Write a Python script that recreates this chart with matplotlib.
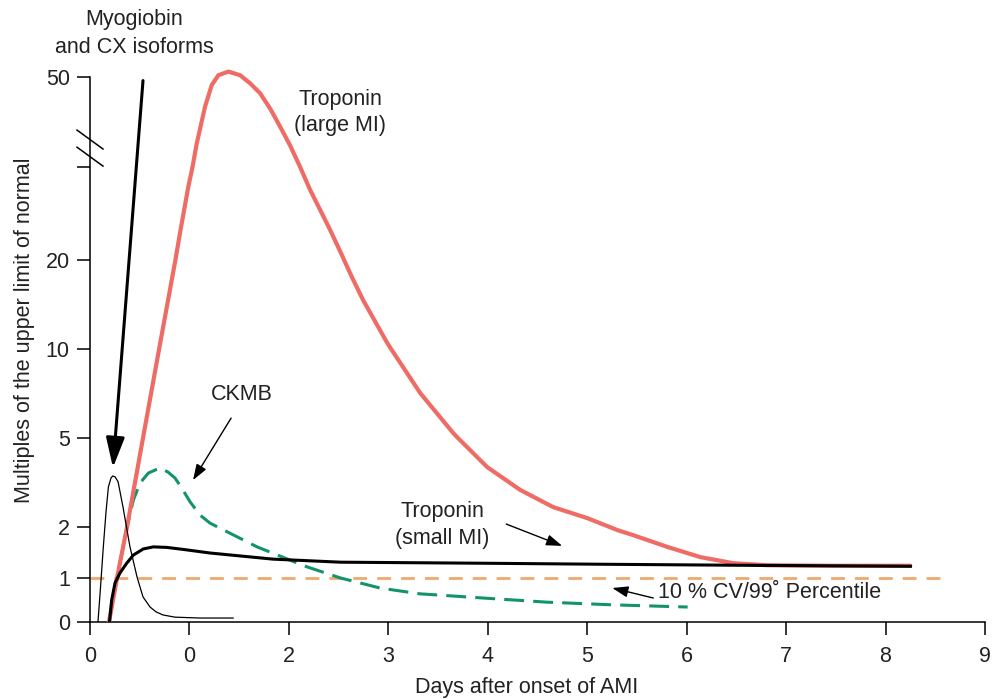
import matplotlib.pyplot as plt
import numpy as np

plt.rcParams['font.family'] = ['Liberation Sans', 'DejaVu Sans']

# hand drawn y axis: value -> height above zero (px), used for the scale only
scale_vals = [0, 1, 2, 5, 10, 20, 40, 50, 60]
scale_hts = [0, 44, 95, 184, 273, 362, 455, 545, 635]

# x ticks (the source figure really labels the second tick "0")
x_ticks = [0, 1, 2, 3, 4, 5, 6, 7, 8, 9]
x_tick_labels = ['0', '0', '2', '3', '4', '5', '6', '7', '8', '9']
y_ticks = [0, 1, 2, 5, 10, 20, 40, 50]
y_tick_labels = ['0', '1', '2', '5', '10', '20', '', '50']

# Troponin (large MI)
trop_large_x = [0.191, 0.272, 0.372, 0.533, 0.695, 0.822, 0.859, 0.905, 0.989, 1.031, 1.073,
                1.157, 1.224, 1.291, 1.392, 1.509, 1.61, 1.71, 1.811, 1.911, 2.012, 2.113,
                2.213, 2.314, 2.414, 2.532, 2.555, 2.633, 2.746, 2.988, 3.028, 3.32, 3.652,
                3.70, 3.994, 4.326, 4.658, 5.0, 5.226, 5.302, 5.463, 5.805, 6.137, 6.469,
                6.811, 7.445, 8.249]
trop_large_y = [0, 1, 2, 5, 10, 17.75, 20, 25.8, 35.8, 40, 42.6,
                46.7, 49.1, 50.2, 50.6, 50.2, 49.3, 48.2, 46.5, 44.5, 42.4, 40.0,
                35.1, 30.8, 26.5, 21.1, 20, 18.1, 15.5, 10.7, 10, 7.53, 5.28,
                5, 4.02, 3.25, 2.67, 2.30, 2, 1.94, 1.84, 1.61, 1.41, 1.29,
                1.25, 1.24, 1.24]

# Troponin (small MI)
trop_small_x = [0.196, 0.218, 0.252, 0.302, 0.369, 0.436, 0.536, 0.637, 0.772, 0.939, 1.207,
                1.84, 2.52, 3.92, 5.13, 6.50, 8.25]
trop_small_y = [0, 0.50, 0.89, 1.10, 1.29, 1.45, 1.57, 1.61, 1.60, 1.56, 1.49,
                1.37, 1.31, 1.29, 1.27, 1.25, 1.23]

# Myoglobin and CK isoforms
myo_x = [0.080, 0.101, 0.134, 0.161, 0.185, 0.211, 0.228, 0.252, 0.282, 0.332, 0.402,
         0.473, 0.533, 0.604, 0.664, 0.734, 0.855, 1.107, 1.439]
myo_y = [0, 0.64, 1.61, 2.51, 3.35, 3.65, 3.72, 3.69, 3.53, 2.67, 1.61,
         1.02, 0.57, 0.34, 0.23, 0.16, 0.11, 0.09, 0.09]

# CKMB
ckmb_x = [0.191, 0.272, 0.372, 0.436, 0.503, 0.587, 0.704, 0.785, 0.855, 0.923, 1.006,
          1.107, 1.207, 1.68, 2.18, 2.52, 2.92, 3.32, 3.92, 4.60, 5.26, 6.01]
ckmb_y = [0, 1, 2, 2.91, 3.48, 3.82, 3.99, 3.85, 3.65, 3.31, 2.85,
          2.40, 2.13, 1.61, 1.22, 1.0, 0.77, 0.64, 0.55, 0.45, 0.39, 0.34]

# 10 % CV / 99th percentile cutoff
cutoff_x = [0, 8.63]
cutoff_y = [1, 1]


def forward(v):
    return np.interp(v, scale_vals, scale_hts)


def inverse(h):
    return np.interp(h, scale_hts, scale_vals)


fs = 15.5
txt = '#222222'

fig = plt.figure(figsize=(9.98, 6.99), dpi=100)
ax = fig.add_axes([90 / 998, 1 - 622 / 699, 895 / 998, 563 / 699])
ax.set_yscale('function', functions=(forward, inverse))

ax.plot(cutoff_x, cutoff_y, color='#efa96e', lw=2, dashes=(5, 3.6), zorder=1)
ax.plot(ckmb_x, ckmb_y, color='#12936b', lw=2.2, dashes=(6.5, 3), zorder=2)
ax.plot(trop_large_x, trop_large_y, color='#ee6b66', lw=3, zorder=3,
        solid_capstyle='round', solid_joinstyle='round')
ax.plot(trop_small_x, trop_small_y, color='black', lw=2.2, zorder=4,
        solid_joinstyle='round')
ax.plot(myo_x, myo_y, color='black', lw=0.9, zorder=4, solid_joinstyle='round')

ax.set_xlim(0, 9)
ax.set_ylim(0, 52)
ax.set_xticks(x_ticks)
ax.set_xticklabels(x_tick_labels)
ax.set_yticks(y_ticks)
ax.set_yticklabels(y_tick_labels)
ax.minorticks_off()
ax.tick_params(axis='both', direction='out', length=9.5, width=1.1, labelsize=fs,
               labelcolor=txt)
ax.tick_params(axis='x', pad=8)
ax.tick_params(axis='y', pad=5)
for side in ['top', 'right']:
    ax.spines[side].set_visible(False)
ax.spines['left'].set_bounds(0, 50)
ax.spines['left'].set_linewidth(1.1)
ax.spines['bottom'].set_linewidth(1.1)

# axis break marks
ytr = ax.get_yaxis_transform()
ax.plot([-0.0145, 0.0145], [44.1, 42.0], color='black', lw=1.1, transform=ytr, clip_on=False)
ax.plot([-0.0145, 0.0145], [42.2, 40.1], color='black', lw=1.1, transform=ytr, clip_on=False)

# annotations
ax.annotate('', xy=(0.231, 4.0), xytext=(0.533, 49.6),
            arrowprops=dict(arrowstyle='-|>,head_length=1.3,head_width=0.4', color='black',
                            lw=2.2, mutation_scale=14, shrinkA=0, shrinkB=0))
small_arrow = dict(arrowstyle='-|>,head_length=0.8,head_width=0.28', color='black',
                   lw=1, mutation_scale=12, shrinkA=0, shrinkB=0)
ax.annotate('', xy=(1.036, 3.58), xytext=(1.419, 6.12), arrowprops=small_arrow)
ax.annotate('', xy=(4.748, 1.63), xytext=(4.185, 2.10), arrowprops=small_arrow)
ax.annotate('', xy=(5.252, 0.773), xytext=(5.664, 0.545), arrowprops=small_arrow)

ax.text(1.529, 7.42, 'CKMB', fontsize=fs, ha='center', va='center', color=txt)
ax.text(2.515, 46.1, 'Troponin\n(large MI)', fontsize=fs, ha='center', va='center',
        color=txt, linespacing=1.3)
ax.text(3.541, 2.07, 'Troponin\n(small MI)', fontsize=fs, ha='center', va='center',
        color=txt, linespacing=1.35)
ax.text(5.714, 0.66, '10 % CV/99˚ Percentile', fontsize=fs, ha='left', va='center',
        color=txt)

fig.text(134 / 998, 1 - 33.5 / 699, 'Myogiobin\nand CX isoforms', fontsize=fs, ha='center',
         va='center', color=txt, linespacing=1.4)
fig.text(527 / 998, 1 - 688 / 699, 'Days after onset of AMI', fontsize=fs, ha='center',
         va='center', color=txt)
fig.text(25 / 998, 1 - 330 / 699, 'Multiples of the upper limit of normal', fontsize=fs,
         ha='center', va='center', rotation=90, color=txt)

fig.savefig('out.png', dpi=100)
